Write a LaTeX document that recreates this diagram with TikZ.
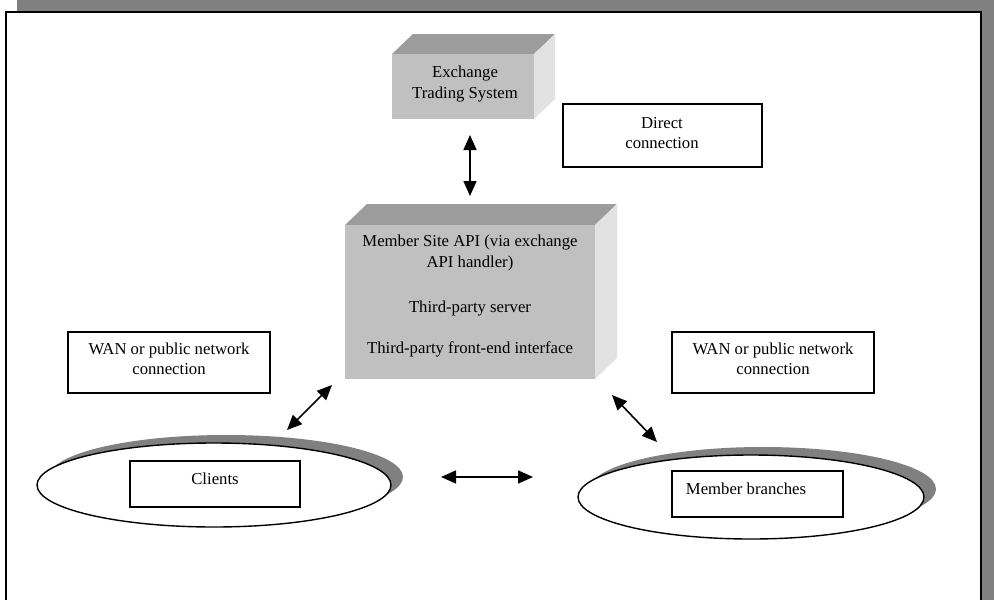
\documentclass[tikz,border=0pt]{standalone}
\usepackage{fontspec}
\setmainfont{Liberation Serif}
\usetikzlibrary{arrows.meta}
\definecolor{shadowc}{HTML}{808080}
\definecolor{topc}{HTML}{9C9C9C}
\definecolor{frontc}{HTML}{C0C0C0}
\definecolor{sidec}{HTML}{E2E2E2}
\begin{document}
\begin{tikzpicture}[x=1pt,y=-1pt,
  lbl/.style={font=\fontsize{16.7}{20.5}\selectfont, align=center, inner sep=0pt},
  tbox/.style={draw=black, line width=1.4pt, fill=white},
  dbl/.style={{Triangle[length=15pt,width=13pt]}-{Triangle[length=15pt,width=13pt]}, line width=1.6pt}]
\useasboundingbox (0,0) rectangle (994,600);
% frame with shadow
\fill[shadowc] (17,0) rectangle (994,600);
\draw[fill=white, line width=2pt] (6,12) rectangle (981,600.5);
% Exchange Trading System cuboid
\fill[topc] (392,54) -- (413,34) -- (555,34) -- (534,54) -- cycle;
\fill[frontc] (392,54) rectangle (534,119);
\fill[sidec] (534,54) -- (555,34) -- (555,99) -- (534,119) -- cycle;
\node[lbl] (ets) at (465,84) {Exchange\\Trading System};
% Direct connection
\draw[tbox] (563,104) rectangle (762,167);
\node[lbl] (dc) at (662,133) {Direct\\connection};
% Member site cuboid
\fill[topc] (345,225) -- (367,204) -- (617,204) -- (595,225) -- cycle;
\fill[frontc] (345,225) rectangle (595,379);
\fill[sidec] (595,225) -- (617,204) -- (617,358) -- (595,379) -- cycle;
\node[lbl] (ms1) at (470,253) {Member Site API (via exchange\\API handler)};
\node[lbl] (ms2) at (470,309) {Third-party server};
\node[lbl] (ms3) at (470,349) {Third-party front-end interface};
% WAN boxes
\draw[tbox] (68,332) rectangle (270,393);
\node[lbl] (wanl) at (169,359) {WAN or public network\\connection};
\draw[tbox] (672,332) rectangle (874,393);
\node[lbl] (wanr) at (773,359) {WAN or public network\\connection};
% Clients ellipse
\fill[shadowc] (226,477) ellipse [x radius=177, y radius=42];
\draw[line width=1.4pt, fill=white] (214,485) ellipse [x radius=177, y radius=42];
\draw[tbox] (130,461) rectangle (300,507);
\node[lbl] (cl) at (215,479) {Clients};
% Member branches ellipse
\fill[shadowc] (763,489) ellipse [x radius=173, y radius=42];
\draw[line width=1.4pt, fill=white] (751,497) ellipse [x radius=173, y radius=42];
\draw[tbox] (672,471) rectangle (843,517);
\node[lbl] (mb) at (746,489) {Member branches};
% arrows
\coordinate (a1) at (470,135); \coordinate (a2) at (470,196);
\coordinate (b1) at (332,385); \coordinate (b2) at (287,430);
\coordinate (c1) at (612,395); \coordinate (c2) at (657,442);
\coordinate (d1) at (441,477); \coordinate (d2) at (533,477);
\draw[dbl] (a1) -- (a2);
\draw[dbl] (b1) -- (b2);
\draw[dbl] (c1) -- (c2);
\draw[dbl] (d1) -- (d2);
\end{tikzpicture}
\end{document}
